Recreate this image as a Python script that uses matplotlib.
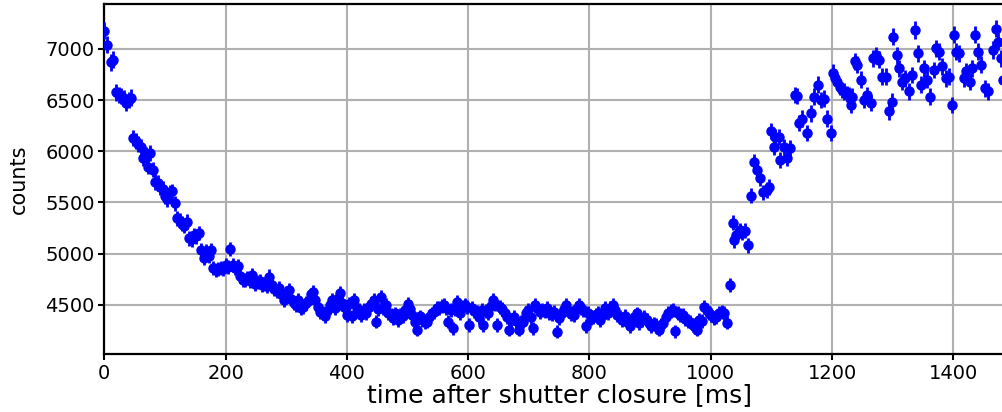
import numpy as np
import matplotlib
matplotlib.use("Agg")
import matplotlib.pyplot as plt

# time after shutter closure [ms] and photon counts
time_decay = [0, 5, 11, 15, 20, 24, 28, 32, 36, 40, 44, 48, 52, 56, 60, 64, 68, 72, 76, 80,
              84, 88, 92, 96, 100, 104, 108, 112, 116, 120, 124, 128, 132, 136, 140, 144, 148,
              152, 156, 160, 164, 168, 172, 176, 180, 184, 188, 192, 196, 200, 204, 207, 212,
              216, 220, 224, 228, 232, 236, 240, 244, 248, 252, 256, 260, 264, 268, 272]
counts_decay = [7180, 7040, 6870, 6895, 6575, 6550, 6540, 6520, 6470, 6500, 6525, 6125, 6100,
                6070, 6040, 5935, 5960, 5850, 5980, 5820, 5700, 5690, 5650, 5630, 5560, 5530,
                5600, 5610, 5490, 5345, 5320, 5290, 5270, 5310, 5150, 5140, 5180, 5170, 5200,
                5035, 4960, 5020, 4980, 5030, 4860, 4840, 4850, 4860, 4850, 4890, 4870, 5045,
                4890, 4860, 4880, 4780, 4745, 4740, 4760, 4730, 4790, 4700, 4720, 4735, 4690,
                4700, 4680, 4775]

time_tail = [276, 280, 284, 288, 292, 296, 300, 304, 308, 312, 316, 320, 324, 328, 332, 336,
             340, 344, 348, 352, 356, 360, 364, 368, 372, 376, 380, 384, 388, 392, 396, 400,
             404, 408, 412, 416, 420, 424, 428, 432, 436, 440, 444, 448, 452, 456, 460, 464,
             468, 472, 476, 480, 484, 488, 492, 496, 500]
counts_tail = [4690, 4650, 4630, 4660, 4600, 4545, 4610, 4645, 4560, 4520, 4500, 4545, 4470,
               4480, 4520, 4540, 4600, 4625, 4545, 4480, 4430, 4420, 4385, 4440, 4500, 4545,
               4465, 4560, 4610, 4520, 4480, 4400, 4510, 4385, 4545, 4470, 4450, 4400, 4445,
               4420, 4480, 4510, 4545, 4335, 4460, 4575, 4465, 4500, 4415, 4400, 4370, 4415,
               4350, 4400, 4385, 4450, 4510]

time_flat = [504, 508, 512, 515, 520, 524, 528, 532, 536, 540, 544, 548, 552, 556, 560, 564,
             567, 571, 575, 579, 582, 586, 590, 594, 598, 602, 606, 610, 614, 618, 622, 625,
             629, 633, 637, 641, 645, 648, 652, 656, 660, 664, 667, 671, 675, 679, 683, 687,
             691, 695, 699, 703, 707, 710, 714, 718, 722, 726, 730, 734, 738, 742, 746, 750,
             754, 758, 762, 766, 770, 774, 778, 782, 786, 790, 794, 798, 802, 806, 810, 814,
             818, 822, 826, 830, 834, 838, 842, 846, 850, 854, 858, 862, 866, 870, 874, 878,
             882, 886, 890, 894, 898, 902, 906, 910, 914, 918, 922, 926, 930, 934, 938, 941,
             946, 950, 954, 958, 962, 966, 970, 974, 977, 981, 985, 989, 993, 997, 1001, 1005,
             1009, 1013, 1018, 1022, 1026]
counts_flat = [4460, 4400, 4335, 4255, 4385, 4350, 4330, 4335, 4380, 4415, 4430, 4465, 4470,
               4490, 4495, 4470, 4335, 4450, 4270, 4460, 4530, 4415, 4480, 4500, 4480, 4300,
               4470, 4440, 4430, 4380, 4450, 4300, 4440, 4415, 4490, 4545, 4510, 4300, 4480,
               4460, 4415, 4380, 4255, 4350, 4380, 4340, 4255, 4330, 4335, 4420, 4450, 4380,
               4270, 4500, 4470, 4430, 4450, 4440, 4465, 4420, 4410, 4430, 4235, 4370, 4420,
               4460, 4495, 4440, 4410, 4400, 4460, 4495, 4470, 4450, 4290, 4420, 4370, 4380,
               4400, 4420, 4350, 4400, 4465, 4420, 4470, 4500, 4450, 4400, 4380, 4350, 4390,
               4330, 4290, 4340, 4380, 4415, 4320, 4350, 4380, 4350, 4320, 4290, 4310, 4300,
               4255, 4300, 4320, 4380, 4420, 4440, 4450, 4240, 4420, 4400, 4400, 4360, 4340,
               4335, 4300, 4280, 4255, 4350, 4340, 4480, 4450, 4420, 4400, 4370, 4380, 4420,
               4430, 4420, 4325]

time_reload = [1032, 1036, 1039, 1042, 1048, 1052, 1056, 1061, 1066, 1071, 1076, 1081, 1086,
               1092, 1096, 1100, 1104, 1106, 1113, 1114, 1120, 1125, 1130, 1139, 1142, 1146,
               1150, 1158, 1165, 1170, 1176, 1181, 1187, 1192, 1198, 1201, 1205, 1208, 1213,
               1217, 1220, 1224, 1228, 1231, 1233, 1237, 1241, 1247, 1252, 1258, 1264, 1268,
               1272, 1278, 1283, 1289, 1294, 1298, 1301, 1307, 1311, 1315, 1321, 1326, 1332,
               1337, 1341, 1346, 1351, 1357, 1361, 1368, 1371, 1376, 1382, 1387, 1393, 1397,
               1401, 1405, 1410, 1417, 1421, 1427, 1430, 1435, 1441, 1446, 1452, 1457, 1466,
               1471, 1474, 1478, 1482]
counts_reload = [4690, 5300, 5130, 5180, 5230, 5200, 5225, 5080, 5565, 5900, 5815, 5740, 5600,
                 5620, 5650, 6200, 6045, 6135, 6135, 5915, 6045, 5930, 6030, 6550, 6540, 6275,
                 6320, 6175, 6370, 6535, 6650, 6500, 6515, 6320, 6175, 6770, 6720, 6680, 6630,
                 6600, 6585, 6560, 6550, 6450, 6535, 6880, 6845, 6700, 6500, 6550, 6470, 6910,
                 6940, 6895, 6730, 6730, 6390, 6485, 7120, 6940, 6810, 6680, 6715, 6585, 6745,
                 7185, 6960, 6650, 6810, 6700, 6535, 6795, 7005, 6975, 6830, 6715, 6730, 6450,
                 7140, 6975, 6960, 6715, 6780, 6680, 6810, 7140, 6975, 6845, 6615, 6585, 6990,
                 7200, 7070, 6910, 6700]

xticks = [0, 200, 400, 600, 800, 1000, 1200, 1400]
yticks = [4500, 5000, 5500, 6000, 6500, 7000]

t = np.array(time_decay + time_tail + time_flat + time_reload, dtype=float)
counts = np.array(counts_decay + counts_tail + counts_flat + counts_reload, dtype=float)
err = np.sqrt(counts)  # poisson error

fig = plt.figure(figsize=(10.03, 4.12), dpi=100)
ax = fig.add_axes([0.104, 0.1408, 0.907, 0.8495])

ax.errorbar(t, counts, yerr=err, fmt='o', color='b', ms=6.5,
            elinewidth=2, capsize=0, zorder=3)

ax.set_xlim(0, 1500)
ax.set_ylim(4018, 7440)
ax.set_xticks(xticks)
ax.set_yticks(yticks)
ax.grid(True, color='#b0b0b0', linewidth=1.5)
ax.set_axisbelow(True)

for sp in ax.spines.values():
    sp.set_linewidth(1.6)
ax.tick_params(direction='out', length=4, width=1.5, labelsize=14, pad=3)

ax.set_xlabel('time after shutter closure [ms]', fontsize=18, labelpad=0)
ax.set_ylabel('counts', fontsize=15, labelpad=12)

fig.savefig('out.png', dpi=100)
